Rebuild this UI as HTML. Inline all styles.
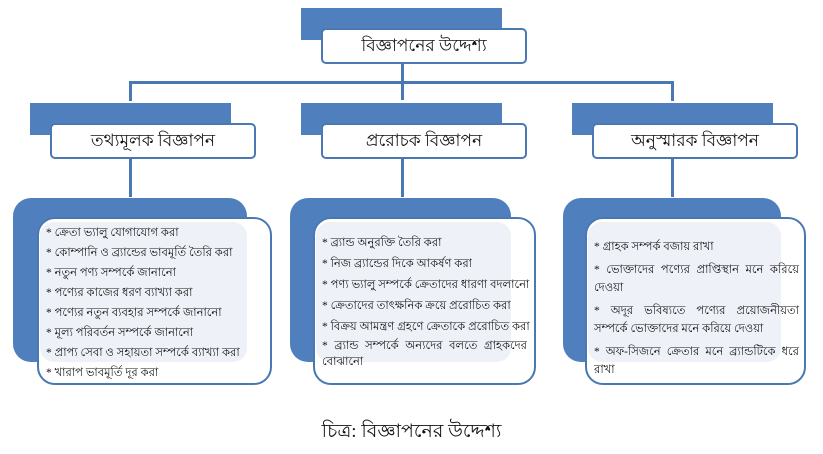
<!DOCTYPE html>
<html><head><meta charset="utf-8"><style>
body{margin:0;width:823px;height:454px;background:#fff;position:relative;overflow:hidden;font-family:"Liberation Serif","Noto Sans CJK SC",serif;color:#111}
div{box-sizing:border-box}
.b{position:absolute;background:#4f80bd}
.w{position:absolute;background:#fff;border:2.5px solid #4a78b3;border-radius:5px;text-align:center;font-size:17px}
.l{position:absolute;background:#4a78b3}
.bb{position:absolute;background:#4f80bd;border-radius:18px}
.wb{position:absolute;background:#fff;border:2.5px solid #4a78b3;border-radius:18px}
.t{position:absolute;font-size:11.5px;line-height:19px;background:#eef2f8;border-radius:14px;padding:0 6px;white-space:nowrap}
.t p{margin:0 0 1px}
.j{text-align-last:justify;text-align:justify}
</style></head><body>
<div class="b" style="left:301px;top:8px;width:201px;height:32px"></div>
<div class="w" style="left:321px;top:28px;width:206px;height:36px;line-height:31px">বিজ্ঞাপনের উদ্দেশ্য</div>
<div class="l" style="left:401px;top:64px;width:3px;height:36px"></div>
<div class="l" style="left:129px;top:81px;width:545px;height:3px"></div>
<div class="l" style="left:129px;top:81px;width:3px;height:20px"></div>
<div class="l" style="left:671px;top:81px;width:3px;height:20px"></div>

<div class="b" style="left:30px;top:103px;width:201px;height:32px"></div>
<div class="w" style="left:50px;top:123px;width:206px;height:36px;line-height:31px">তথ্যমূলক বিজ্ঞাপন</div>
<div class="b" style="left:301px;top:103px;width:201px;height:32px"></div>
<div class="w" style="left:321px;top:123px;width:206px;height:36px;line-height:31px">প্ররোচক বিজ্ঞাপন</div>
<div class="b" style="left:572px;top:103px;width:201px;height:32px"></div>
<div class="w" style="left:592px;top:123px;width:206px;height:36px;line-height:31px">অনুস্মারক বিজ্ঞাপন</div>

<div class="l" style="left:129px;top:159px;width:3px;height:38px"></div>
<div class="l" style="left:401px;top:159px;width:3px;height:38px"></div>
<div class="l" style="left:671px;top:159px;width:3px;height:38px"></div>

<div class="bb" style="left:13px;top:198px;width:234px;height:164px"></div>
<div class="wb" style="left:37px;top:217px;width:235px;height:168px"></div>
<div class="t" style="left:40px;top:222px;width:207px;height:140px;padding-top:2px">
<p>* ক্রেতা ভ্যালু যোগাযোগ করা</p><p>* কোম্পানি ও ব্র্যান্ডের ভাবমূর্তি তৈরি করা</p><p>* নতুন পণ্য সম্পর্কে জানানো</p><p>* পণ্যের কাজের ধরণ ব্যাখ্যা করা</p><p>* পণ্যের নতুন ব্যবহার সম্পর্কে জানানো</p><p>* মূল্য পরিবর্তন সম্পর্কে জানানো</p><p>* প্রাপ্য সেবা ও সহায়তা সম্পর্কে ব্যাখ্যা করা</p><p>* খারাপ ভাবমূর্তি দূর করা</p></div>

<div class="bb" style="left:290px;top:198px;width:221px;height:164px"></div>
<div class="wb" style="left:313px;top:217px;width:223px;height:168px"></div>
<div class="t" style="left:316px;top:222px;width:195px;height:140px;padding-top:11px;line-height:20px;overflow:visible">
<p>* ব্র্যান্ড অনুরক্তি তৈরি করা</p><p>* নিজ ব্র্যান্ডের দিকে আকর্ষণ করা</p><p>* পণ্য ভ্যালু সম্পর্কে ক্রেতাদের ধারণা বদলানো</p><p>* ক্রেতাদের তাৎক্ষনিক ক্রয়ে প্ররোচিত করা</p><p>* বিক্রয় আমন্ত্রণ গ্রহণে ক্রেতাকে প্ররোচিত করা</p><p class="j" style="line-height:16px;width:205px">* ব্র্যান্ড সম্পর্কে অন্যদের বলতে গ্রাহকদের</p><p style="line-height:14px">বোঝানো</p></div>

<div class="bb" style="left:563px;top:198px;width:218px;height:164px"></div>
<div class="wb" style="left:585px;top:217px;width:221px;height:168px"></div>
<div class="t" style="left:588px;top:222px;width:193px;height:140px;padding-top:16px;line-height:18px">
<p class="j" style="width:205px;text-align-last:left">* গ্রাহক সম্পর্ক বজায় রাখা</p>
<p class="j" style="width:205px;margin-top:5px;margin-bottom:0">* ভোক্তাদের পণ্যের প্রাপ্তিস্থান মনে করিয়ে</p><p>দেওয়া</p>
<p class="j" style="width:205px;margin-top:5px;margin-bottom:0">* অদূর ভবিষ্যতে পণ্যের প্রয়োজনীয়তা</p><p>সম্পর্কে ভোক্তাদের মনে করিয়ে দেওয়া</p>
<p class="j" style="width:205px;margin-top:5px;margin-bottom:0">* অফ-সিজনে ক্রেতার মনে ব্র্যান্ডটিকে ধরে</p><p>রাখা</p></div>

<div style="position:absolute;left:0;width:823px;top:417px;text-align:center;font-size:19px">চিত্র: বিজ্ঞাপনের উদ্দেশ্য</div>
</body></html>
